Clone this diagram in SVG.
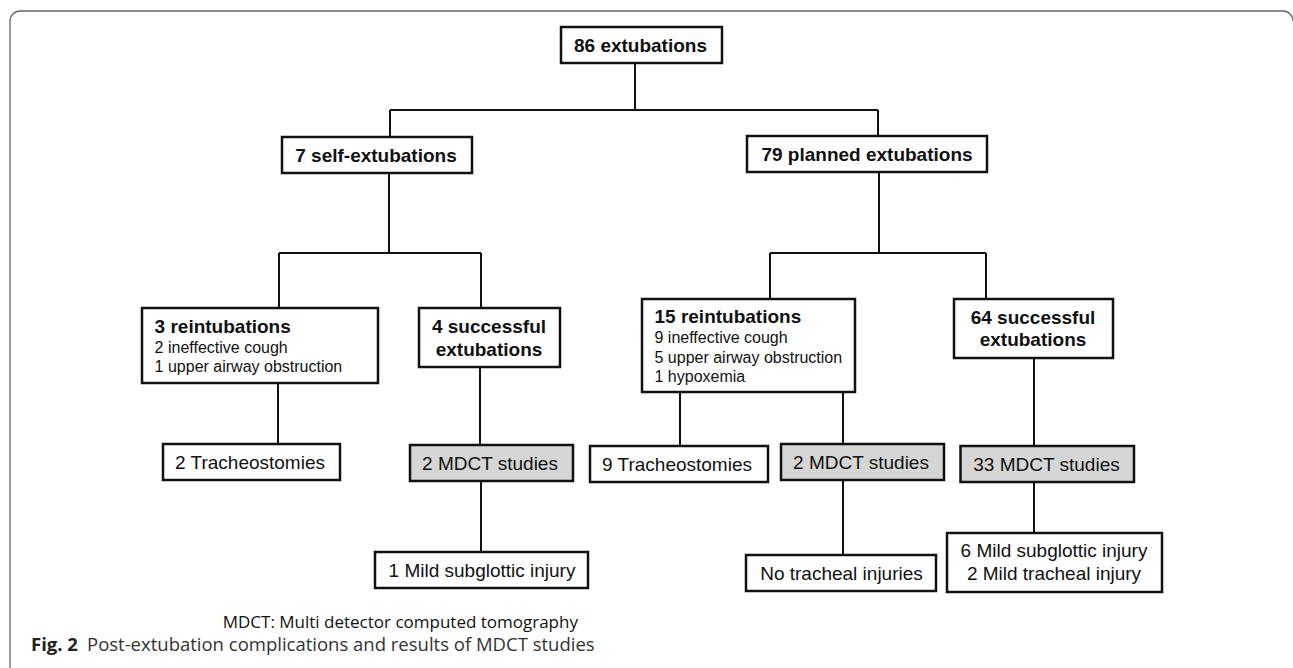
<svg xmlns="http://www.w3.org/2000/svg" width="1293" height="668" viewBox="0 0 1293 668">
<style>
.box{fill:#fff;stroke:#111;stroke-width:2.5}
.gray{fill:#d6d6d6;stroke:#111;stroke-width:2.5}
.con{stroke:#111;stroke-width:2;fill:none}
text{font-family:"Liberation Sans",Arial,sans-serif;fill:#111}
.b{font-size:19px;font-weight:bold}
.r{font-size:19px}
.s{font-size:16px}
.m{text-anchor:middle}
.cap{font-family:"Open Sans","Noto Sans",sans-serif}
</style>
<rect width="1293" height="668" fill="#fff"/>
<path d="M10,668 V21 A10,10 0 0 1 20,11 H1283 A10,10 0 0 1 1293,21" fill="none" stroke="#666" stroke-width="1.3"/>
<g id="connectors">
<path class="con" d="M635,63 V110 M390,110 H878 M390,110 V137 M878,110 V136"/>
<path class="con" d="M389,173 V253 M279,253 H481 M279,253 V308 M481,253 V308"/>
<path class="con" d="M879,172 V253 M770,253 H986 M770,253 V299 M986,253 V299"/>
<path class="con" d="M278,383 V444 M480,367 V445 M680,392 V446 M843,392 V444 M1034,358 V446"/>
<path class="con" d="M481,481 V552 M843,480 V555 M1034,482 V533"/>
</g>
<g id="n86"><rect class="box" x="561" y="27" width="161" height="36"/><text class="b m" x="640.5" y="52">86 extubations</text></g>
<g id="nself"><rect class="box" x="282" y="137" width="190" height="36"/><text class="b m" x="376" y="162">7 self-extubations</text></g>
<g id="nplanned"><rect class="box" x="747" y="136" width="240" height="36"/><text class="b m" x="867" y="161">79 planned extubations</text></g>
<g id="nreint3"><rect class="box" x="142" y="308" width="236" height="75"/><text class="b" x="154.6" y="333">3 reintubations</text><text class="s" x="154.6" y="353">2 ineffective cough</text><text class="s" x="154.6" y="372">1 upper airway obstruction</text></g>
<g id="nsucc4"><rect class="box" x="419" y="308" width="141" height="59"/><text class="b m" x="489" y="333">4 successful</text><text class="b m" x="489" y="356">extubations</text></g>
<g id="nreint15"><rect class="box" x="642" y="299" width="213" height="93"/><text class="b" x="654.5" y="323">15 reintubations</text><text class="s" x="654.5" y="343">9 ineffective cough</text><text class="s" x="654.5" y="362.5">5 upper airway obstruction</text><text class="s" x="654.5" y="381.5">1 hypoxemia</text></g>
<g id="nsucc64"><rect class="box" x="954" y="299" width="159" height="59"/><text class="b m" x="1033" y="324">64 successful</text><text class="b m" x="1033" y="346">extubations</text></g>
<g id="ntrach2"><rect class="box" x="163" y="444" width="177" height="36"/><text class="r m" x="250" y="468.5">2 Tracheostomies</text></g>
<g id="nmdct2a"><rect class="gray" x="410" y="445" width="163" height="36"/><text class="r m" x="490" y="469.5">2 MDCT studies</text></g>
<g id="ntrach9"><rect class="box" x="590" y="446" width="178" height="36"/><text class="r m" x="677" y="470.5">9 Tracheostomies</text></g>
<g id="nmdct2b"><rect class="gray" x="781" y="444" width="163" height="36"/><text class="r m" x="861" y="468.5">2 MDCT studies</text></g>
<g id="nmdct33"><rect class="gray" x="960.5" y="446" width="173.5" height="36"/><text class="r m" x="1046.5" y="470.5">33 MDCT studies</text></g>
<g id="nmild1"><rect class="box" x="375" y="552" width="213" height="36"/><text class="r m" x="482" y="576.5">1 Mild subglottic injury</text></g>
<g id="nnotrach"><rect class="box" x="746" y="555" width="190" height="36"/><text class="r m" x="841.5" y="579.5">No tracheal injuries</text></g>
<g id="nmild6"><rect class="box" x="947" y="533" width="215" height="59"/><text class="r m" x="1054" y="557">6 Mild subglottic injury</text><text class="r m" x="1054" y="580">2 Mild tracheal injury</text></g>
<text class="cap" x="222.7" y="628" font-size="17" fill="#111">MDCT: Multi detector computed tomography</text>
<text class="cap" y="651" font-size="18.5"><tspan x="31" font-weight="bold" fill="#222">Fig. 2</tspan><tspan x="87" fill="#333">Post-extubation complications and results of MDCT studies</tspan></text>
</svg>
